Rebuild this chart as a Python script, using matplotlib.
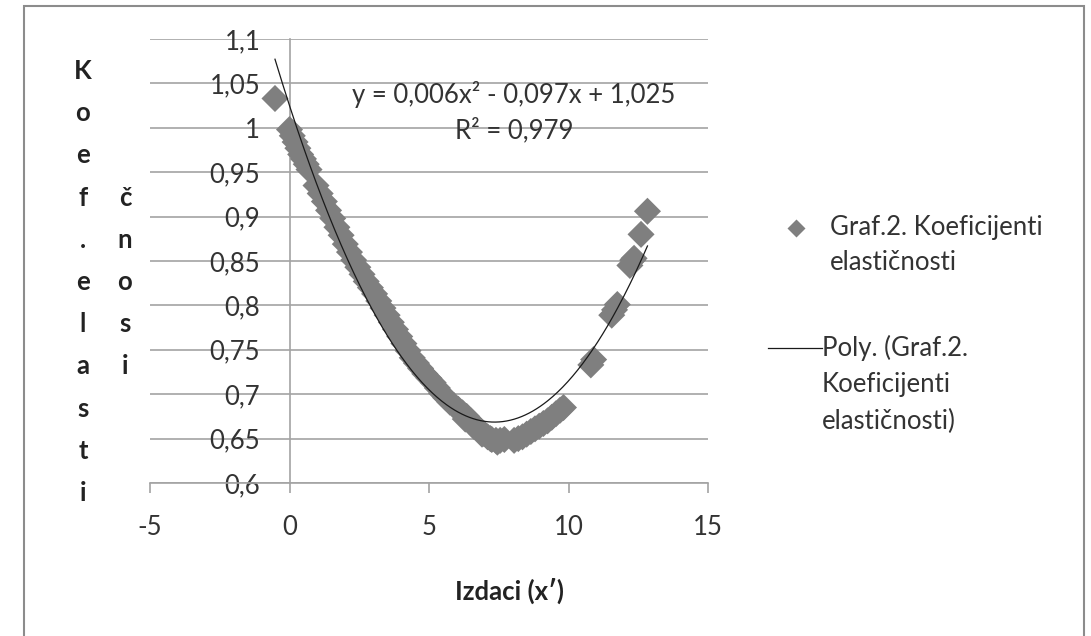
import numpy as np
import matplotlib
matplotlib.use("Agg")
import matplotlib.pyplot as plt
from matplotlib.lines import Line2D
from matplotlib.patches import Rectangle

plt.rcParams['font.family'] = ['Lato', 'DejaVu Sans']
plt.rcParams['axes.unicode_minus'] = False

W, H = 1091, 636

# podaci procijenjeni sa slike
x_vals = [-0.52,
          0.00, 0.10, 0.20, 0.30, 0.40, 0.50, 0.60, 0.70,
          0.95, 1.10, 1.25, 1.40, 1.55, 1.70, 1.85, 2.00, 2.15, 2.30,
          2.45, 2.60, 2.75, 2.90, 3.05, 3.20, 3.35, 3.50, 3.65, 3.80,
          3.95, 4.10, 4.25, 4.40, 4.55, 4.70, 4.85, 5.00, 5.15, 5.30,
          5.45, 5.60, 5.75, 5.90, 6.05, 6.20, 6.35, 6.50, 6.65, 6.80,
          6.95, 7.10, 7.25, 7.40, 7.55, 7.70,
          6.30, 6.60, 6.90, 7.20, 7.45,
          8.05, 8.20, 8.35, 8.50, 8.65, 8.80, 8.95, 9.10, 9.25, 9.40,
          9.55, 9.70, 9.82,
          10.80, 10.90, 11.55, 11.65, 11.75, 12.20, 12.30, 12.35,
          12.60, 12.83]
y_vals = [1.033,
          0.998, 0.991, 0.984, 0.977, 0.970, 0.965, 0.959, 0.953,
          0.935, 0.926, 0.917, 0.907, 0.898, 0.888, 0.879, 0.869, 0.860, 0.851,
          0.843, 0.835, 0.827, 0.820, 0.813, 0.805, 0.797, 0.789, 0.781, 0.773,
          0.765, 0.757, 0.749, 0.741, 0.735, 0.729, 0.723, 0.718, 0.713, 0.707,
          0.701, 0.696, 0.691, 0.687, 0.683, 0.679, 0.675, 0.670, 0.665, 0.660,
          0.656, 0.652, 0.649, 0.648, 0.648, 0.649,
          0.672, 0.664, 0.655, 0.650, 0.646,
          0.648, 0.650, 0.652, 0.655, 0.658, 0.661, 0.664, 0.667, 0.670, 0.674,
          0.678, 0.682, 0.685,
          0.733, 0.739, 0.789, 0.795, 0.801, 0.845, 0.851, 0.853,
          0.880, 0.906]

trend_coef = [0.0066, -0.097, 1.025]
equation = "y = 0,006x² - 0,097x + 1,025"
r2_text = "R² = 0,979"

y_ticks = [0.6, 0.65, 0.7, 0.75, 0.8, 0.85, 0.9, 0.95, 1.0, 1.05, 1.1]
y_labels = ['0,6', '0,65', '0,7', '0,75', '0,8', '0,85', '0,9', '0,95', '1', '1,05', '1,1']
x_ticks = [-5, 0, 5, 10, 15]

gray = '#7f7f7f'
grid_c = '#a3a3a3'
txt_c = '#333333'
fs = 18.5


def fx(px):
    return px / W


def fy(py):
    return 1 - py / H


fig = plt.figure(figsize=(W / 100, H / 100), dpi=100)
ax = fig.add_axes([fx(150), fy(483), (708 - 150) / W, (483 - 39) / H])

ax.set_xlim(-5, 15)
ax.set_ylim(0.6, 1.1)

ax.scatter(x_vals, y_vals, marker='D', s=190, color=gray, edgecolors='none', zorder=3)

xs = np.linspace(min(x_vals), max(x_vals), 300)
ax.plot(xs, np.polyval(trend_coef, xs), color='#1a1a1a', lw=0.9, zorder=4)

# osi
for s in ['top', 'right']:
    ax.spines[s].set_visible(False)
ax.spines['left'].set_position(('data', 0))
ax.spines['left'].set_color(grid_c)
ax.spines['left'].set_linewidth(1.2)
ax.spines['bottom'].set_color(grid_c)
ax.spines['bottom'].set_linewidth(1.2)

ax.set_yticks(y_ticks)
ax.set_yticklabels(y_labels)
ax.set_xticks(x_ticks)
ax.tick_params(axis='y', length=0, pad=21, labelsize=fs, labelcolor=txt_c)
ax.tick_params(axis='x', length=7, width=1.2, color=grid_c, pad=16, labelsize=fs,
               labelcolor=txt_c)
ax.yaxis.grid(True, color=grid_c, lw=1.2)
ax.set_axisbelow(True)

ax.text(0.652, 0.875, equation, transform=ax.transAxes, ha='center', va='center',
        fontsize=fs, color=txt_c)
ax.text(0.652, 0.795, r2_text, transform=ax.transAxes, ha='center', va='center',
        fontsize=fs, color=txt_c)

# naslovi osi
fig.text(fx(510), fy(591), "Izdaci (x′)", ha='center', va='center', fontsize=fs,
         fontweight='bold', color='#222222')
col1 = "Koef.elasti"
col2 = "čnosi"
for i, ch in enumerate(col1):
    fig.text(fx(83), fy(79 + 42.2 * i), ch, ha='center', va='baseline', fontsize=fs,
             fontweight='bold', color='#222222')
for i, ch in enumerate(col2):
    fig.text(fx(125), fy(79 + 42.2 * (i + 3)), ch, ha='center', va='baseline',
             fontsize=fs, fontweight='bold', color='#222222')

# legenda
fig.add_artist(Line2D([fx(796)], [fy(228)], marker='D', markersize=9, color=gray,
                      markeredgecolor='none', transform=fig.transFigure))
fig.text(fx(830), fy(228), "Graf.2. Koeficijenti", ha='left', va='center',
         fontsize=fs, color=txt_c)
fig.text(fx(830), fy(262), "elastičnosti", ha='left', va='center',
         fontsize=fs, color=txt_c)
fig.add_artist(Line2D([fx(768), fx(822)], [fy(348), fy(348)], color='#1a1a1a', lw=0.9,
                      transform=fig.transFigure))
for i, t in enumerate(["Poly. (Graf.2.", "Koeficijenti", "elastičnosti)"]):
    fig.text(fx(822), fy(348 + 36.5 * i), t, ha='left', va='center',
             fontsize=fs, color=txt_c)

# okvir
fig.add_artist(Rectangle((fx(24), fy(645)), (1084 - 24) / W, (645 - 6) / H,
                         transform=fig.transFigure, fill=False, edgecolor='#8c8c8c',
                         lw=1.5, clip_on=False))

fig.savefig("out.png", dpi=100)
